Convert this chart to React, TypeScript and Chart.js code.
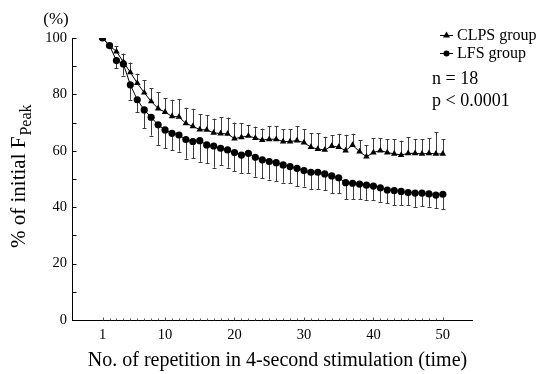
import React, { useEffect, useRef } from "react";
import { Chart, registerables } from "chart.js";

Chart.register(...registerables);

const repetitions = [
  1, 2, 3, 4, 5, 6, 7, 8, 9, 10, 11, 12, 13, 14, 15, 16, 17, 18, 19, 20, 21, 22, 23, 24, 25,
  26, 27, 28, 29, 30, 31, 32, 33, 34, 35, 36, 37, 38, 39, 40, 41, 42, 43, 44, 45, 46, 47, 48, 49, 50,
];

const clpsMean = [
  100, 97.3, 95.2, 91.5, 87.8, 84.0, 80.6, 77.5, 75.0, 73.7, 72.2, 72.0, 69.7, 68.7, 67.5, 67.4, 66.4,
  66.1, 66.0, 64.3, 64.8, 65.3, 64.5, 63.8, 64.1, 64.1, 63.3, 63.3, 63.6, 62.9, 61.3, 60.6, 60.3, 61.7,
  61.3, 60.1, 62.0, 59.7, 57.9, 59.4, 60.1, 59.4, 58.9, 58.5, 59.1, 59.1, 58.9, 59.1, 58.9, 58.9,
];
const clpsSD = [
  0, 1.0, 1.8, 3.0, 3.5, 3.4, 4.5, 4.7, 5.8, 5.0, 5.9, 6.4, 5.6, 6.2, 5.5, 5.3, 5.0, 5.8, 5.8, 5.7, 5.0,
  3.9, 4.1, 4.1, 4.7, 4.7, 4.4, 4.4, 5.2, 4.7, 5.0, 5.7, 4.7, 3.9, 4.7, 5.6, 4.1, 4.1, 4.1, 5.1, 4.4,
  4.7, 5.2, 5.1, 5.7, 5.0, 5.2, 5.3, 7.6, 5.2,
];

const lfsMean = [
  100, 97.3, 92.0, 90.8, 83.4, 78.1, 74.5, 71.9, 69.2, 67.4, 66.2, 65.6, 64.0, 63.3, 63.6, 62.1, 61.7,
  60.9, 60.3, 59.4, 58.5, 59.1, 57.7, 56.8, 56.2, 55.8, 55.0, 54.4, 53.8, 53.0, 52.4, 52.4, 51.8, 51.1,
  50.4, 48.7, 48.5, 48.2, 47.8, 47.5, 46.9, 46.1, 45.9, 45.6, 45.2, 45.0, 45.0, 44.7, 44.3, 44.6,
];
const lfsSD = [
  0, 1.0, 2.7, 4.1, 5.3, 4.5, 6.5, 6.5, 7.1, 6.5, 5.9, 5.9, 6.8, 5.9, 7.5, 6.5, 7.7, 5.9, 6.3, 6.7, 6.5,
  7.1, 6.9, 6.5, 6.4, 6.5, 6.3, 5.9, 6.3, 5.7, 6.0, 6.0, 5.7, 6.2, 5.4, 5.9, 5.7, 5.4, 5.2, 5.0, 5.0,
  4.7, 5.1, 4.9, 4.4, 4.9, 4.6, 4.5, 4.7, 5.3,
];

const xTickLabels = [1, 10, 20, 30, 40, 50];
const yTickLabels = [0, 20, 40, 60, 80, 100];
const yMinorTicks = [10, 30, 50, 70, 90];

const seriesNames = ["CLPS group", "LFS group"];
const statLines = ["n = 18", "p < 0.0001"];
const xTitle = "No. of repetition in 4-second stimulation (time)";
const yTitleMain = "% of initial F";
const yTitleSub = "Peak";
const unitLabel = "(%)";

const SERIF = "'Liberation Serif', 'Times New Roman', serif";

const overlayPlugin = {
  id: "overlay",
  beforeDatasetsDraw(chart: any) {
    const ctx = chart.ctx as CanvasRenderingContext2D;
    const xs = chart.scales.x;
    const ys = chart.scales.y;
    ctx.save();
    ctx.strokeStyle = "#3c3c3c";
    ctx.lineWidth = 1;
    const drawBar = (r: number, m: number, sd: number, dir: number) => {
      if (sd <= 0) return;
      const px = Math.round(xs.getPixelForValue(r)) + 0.5;
      const y0 = ys.getPixelForValue(m);
      const y1 = ys.getPixelForValue(m + dir * sd);
      ctx.beginPath();
      ctx.moveTo(px, y0);
      ctx.lineTo(px, y1);
      const cy = Math.round(y1) + 0.5;
      ctx.moveTo(px - 2, cy);
      ctx.lineTo(px + 2, cy);
      ctx.stroke();
    };
    repetitions.forEach((r, i) => {
      drawBar(r, clpsMean[i], clpsSD[i], 1);
      drawBar(r, lfsMean[i], lfsSD[i], -1);
    });
    ctx.restore();
  },
  afterDraw(chart: any) {
    const ctx = chart.ctx as CanvasRenderingContext2D;
    const xs = chart.scales.x;
    const ys = chart.scales.y;
    const area = chart.chartArea;
    ctx.save();
    ctx.strokeStyle = "#000";
    ctx.fillStyle = "#000";
    ctx.lineWidth = 1;
    // y ticks inward
    const left = Math.round(area.left) + 0.5;
    [...yTickLabels, ...yMinorTicks].forEach((v) => {
      const py = Math.round(ys.getPixelForValue(v)) + 0.5;
      ctx.beginPath();
      ctx.moveTo(left, py);
      ctx.lineTo(left + 4, py);
      ctx.stroke();
    });
    // x ticks inward
    const bottom = Math.round(area.bottom) + 0.5;
    ctx.strokeStyle = "#555";
    repetitions.forEach((r) => {
      const px = Math.round(xs.getPixelForValue(r)) + 0.5;
      const major = xTickLabels.includes(r);
      ctx.beginPath();
      ctx.moveTo(px, bottom);
      ctx.lineTo(px, bottom - (major ? 3 : 2));
      ctx.stroke();
    });
    ctx.strokeStyle = "#000";

    // x title
    ctx.font = `20px ${SERIF}`;
    ctx.textAlign = "center";
    ctx.textBaseline = "alphabetic";
    ctx.fillText(xTitle, 277.5, 366);

    // y title rotated
    ctx.save();
    ctx.translate(25, 248);
    ctx.rotate(-Math.PI / 2);
    ctx.textAlign = "left";
    ctx.font = `21px ${SERIF}`;
    ctx.fillText(yTitleMain, 0, 0);
    const w = ctx.measureText(yTitleMain).width;
    ctx.font = `16px ${SERIF}`;
    ctx.fillText(yTitleSub, w + 1, 6);
    ctx.restore();

    // unit label
    ctx.font = `17px ${SERIF}`;
    ctx.textAlign = "center";
    ctx.textBaseline = "middle";
    ctx.fillText(unitLabel, 56, 20);

    // legend
    const lx = 440;
    const rows = [35, 53];
    ctx.textAlign = "left";
    ctx.font = `16px ${SERIF}`;
    rows.forEach((ry, i) => {
      ctx.beginPath();
      ctx.moveTo(lx, ry + 0.5);
      ctx.lineTo(lx + 13, ry + 0.5);
      ctx.stroke();
      const cx = lx + 6.5;
      ctx.beginPath();
      if (i === 0) {
        ctx.moveTo(cx, ry - 3.5);
        ctx.lineTo(cx + 3.5, ry + 2.5);
        ctx.lineTo(cx - 3.5, ry + 2.5);
        ctx.closePath();
      } else {
        ctx.arc(cx, ry + 0.5, 3, 0, Math.PI * 2);
      }
      ctx.fill();
      ctx.fillText(seriesNames[i], 457, ry + 1);
    });
    ctx.font = `18px ${SERIF}`;
    ctx.fillText(statLines[0], 432, 79);
    ctx.fillText(statLines[1], 432, 101);
    ctx.restore();
  },
};

export default function App() {
  const canvasRef = useRef<HTMLCanvasElement | null>(null);

  useEffect(() => {
    const canvas = canvasRef.current;
    if (!canvas) return;
    const chart = new Chart(canvas, {
      type: "line",
      data: {
        datasets: [
          {
            label: seriesNames[0],
            data: repetitions.map((r, i) => ({ x: r, y: clpsMean[i] })),
            borderColor: "#000",
            backgroundColor: "#000",
            borderWidth: 1,
            pointStyle: "triangle",
            pointRadius: 3.8,
            pointBorderWidth: 0,
            tension: 0,
          },
          {
            label: seriesNames[1],
            data: repetitions.map((r, i) => ({ x: r, y: lfsMean[i] })),
            borderColor: "#000",
            backgroundColor: "#000",
            borderWidth: 1,
            pointStyle: "circle",
            pointRadius: 3.6,
            pointBorderWidth: 0,
            tension: 0,
          },
        ],
      },
      options: {
        animation: false,
        responsive: false,
        layout: { padding: { left: 0, top: 38, right: 72, bottom: 0 } },
        plugins: {
          legend: { display: false },
          tooltip: { enabled: false },
          title: { display: false },
        },
        scales: {
          x: {
            type: "linear",
            min: -3.4,
            max: 54.2,
            afterBuildTicks: (s: any) => {
              s.ticks = xTickLabels.map((v) => ({ value: v }));
            },
            afterFit: (s: any) => {
              s.height = 54;
            },
            grid: { display: false, drawTicks: false },
            border: { display: true, color: "#000", width: 1 },
            ticks: {
              color: "#000",
              font: { family: SERIF, size: 14.5 },
              padding: 6,
              maxRotation: 0,
              autoSkip: false,
            },
          },
          y: {
            type: "linear",
            min: 0,
            max: 100,
            afterBuildTicks: (s: any) => {
              s.ticks = yTickLabels.map((v) => ({ value: v }));
            },
            afterFit: (s: any) => {
              s.width = 72;
            },
            grid: { display: false, drawTicks: false },
            border: { display: true, color: "#000", width: 1 },
            ticks: {
              color: "#000",
              font: { family: SERIF, size: 14.5 },
              padding: 5,
            },
          },
        },
      },
      plugins: [overlayPlugin],
    });
    return () => chart.destroy();
  }, []);

  return (
    <div style={{ position: "absolute", left: 0, top: 0, width: 544, height: 374, background: "#fff" }}>
      <canvas ref={canvasRef} width={544} height={374} style={{ width: 544, height: 374 }} />
    </div>
  );
}
